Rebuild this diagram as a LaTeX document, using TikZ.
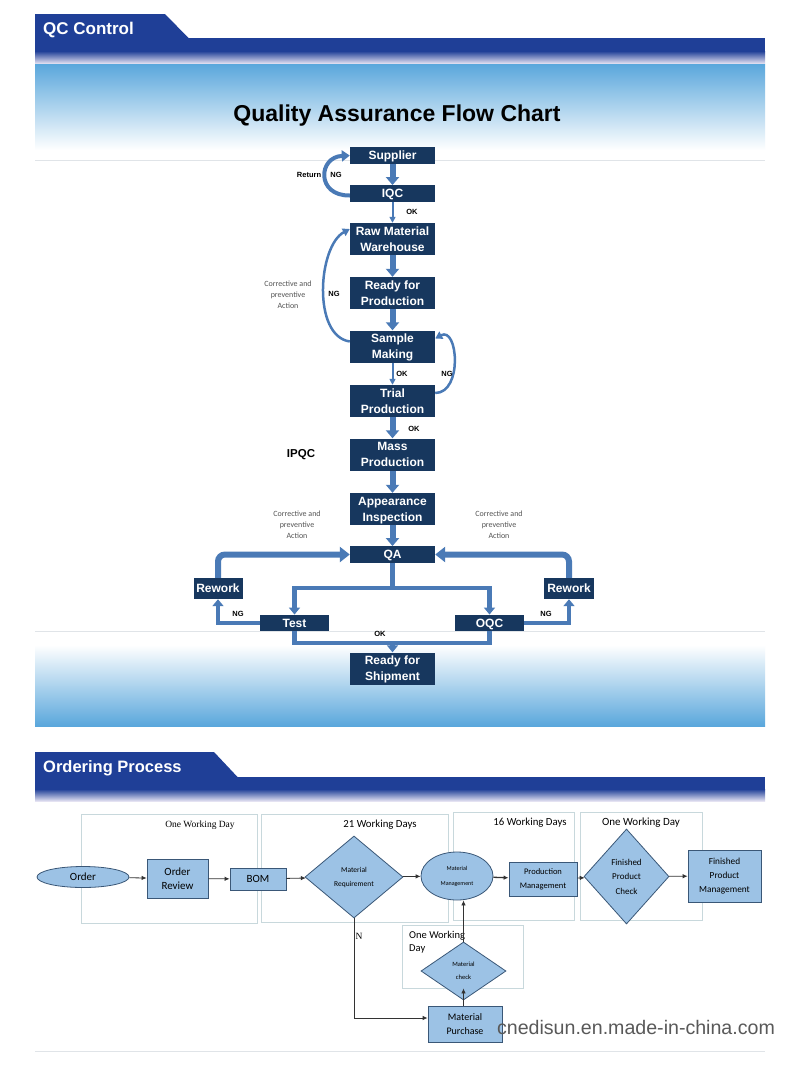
\documentclass[tikz,border=0pt]{standalone}
\usepackage{fontspec}
\setmainfont{Liberation Sans}
\newfontfamily\fA{Liberation Sans}
\newfontfamily\fC{Carlito}
\newfontfamily\fT{Liberation Serif}
\usetikzlibrary{arrows.meta,shapes.geometric,calc}
\definecolor{hdr}{HTML}{1F3F97}
\definecolor{lav}{HTML}{E4E2F2}
\definecolor{sky}{HTML}{5AA7DC}
\definecolor{navy}{HTML}{17375E}
\definecolor{arr}{HTML}{4A7AB6}
\definecolor{sepc}{HTML}{E0E4E8}
\definecolor{lblue}{HTML}{9CC2E5}
\definecolor{nodeline}{HTML}{3A5777}
\definecolor{framec}{HTML}{C8D8DC}
\definecolor{cpac}{HTML}{555555}
\begin{document}
\begin{tikzpicture}[x=1pt,y=-1pt,
  qbox/.style={fill=navy, text=white, font=\fA\bfseries\fontsize{12}{16}\selectfont, minimum width=85pt, inner sep=0pt, align=center, text depth=0pt},
  qtall/.style={qbox, minimum height=32pt},
  qshort/.style={qbox, minimum height=16.5pt},
  lblb/.style={font=\fA\bfseries\fontsize{7.5}{9}\selectfont, inner sep=0pt},
  cpa/.style={text=cpac, font=\fC\fontsize{8}{11}\selectfont, align=center, inner sep=0pt},
  barrow/.style={draw=arr, line width=6pt, -{Triangle[width=13pt,length=8pt]}},
  tarrow/.style={draw=arr, line width=2pt, -{Triangle[width=6pt,length=6pt]}},
  curv/.style={draw=arr, line width=4pt, -{Triangle[width=11pt,length=8pt]}},
  curvt/.style={draw=arr, line width=2.5pt, -{Triangle[width=8pt,length=7pt]}},
  pipe/.style={draw=arr, line width=4.5pt},
  pipetip/.style={pipe, -{Triangle[width=11pt,length=7pt]}},
  bigpipe/.style={draw=arr, line width=6pt, rounded corners=7pt, -{Triangle[width=15pt,length=10pt]}},
  onode/.style={draw=nodeline, fill=lblue, line width=0.8pt, font=\fC\fontsize{11}{14}\selectfont, align=center, inner sep=0pt},
  oarr/.style={draw=black!80, line width=0.8pt, -{Latex[length=5pt,width=4.5pt]}},
  frame/.style={draw=framec, line width=0.8pt},
  flab/.style={font=\fC\fontsize{10.8}{13}\selectfont, inner sep=0pt}
]
\useasboundingbox (0,0) rectangle (800,1069);
\fill[white] (0,0) rectangle (800,1069);

% ---------- QC header ----------
\fill[hdr] (35,14) -- (165,14) -- (189,38.5) -- (35,38.5) -- cycle;
\fill[hdr] (35,38) rectangle (765,51);
\shade[top color=hdr, bottom color=lav] (35,51) rectangle (765,63.5);
\shade[top color=sky, bottom color=white] (35,64) rectangle (765,150);
\node[anchor=west, text=white, font=\fA\bfseries\fontsize{17}{20}\selectfont, inner sep=0pt] (qctab) at (43,30) {QC Control};
\node[font=\fA\bfseries\fontsize{23}{26}\selectfont] (title) at (397,116) {Quality Assurance Flow Chart};
\draw[sepc, line width=1pt] (35,160) -- (765,160);

% bottom gradient of QC section
\shade[top color=white, bottom color=sky] (35,645) rectangle (765,726);
\draw[sepc, line width=1pt] (35,631) -- (765,631);

% ---------- QC flow nodes ----------
\node[qshort] (sup) at (392.5,155.5) {Supplier};
\node[qshort] (iqc) at (392.5,193.5) {IQC};
\node[qtall] (raw) at (392.5,239) {Raw Material\\Warehouse};
\node[qtall] (rdy) at (392.5,293) {Ready for\\Production};
\node[qtall] (smp) at (392.5,346.5) {Sample\\Making};
\node[qtall] (trl) at (392.5,401) {Trial\\Production};
\node[qtall] (mas) at (392.5,454.5) {Mass\\Production};
\node[qtall] (app) at (392.5,509) {Appearance\\Inspection};
\node[qshort] (qa) at (392.5,554.5) {QA};
\node[qbox, minimum width=49pt, minimum height=21pt] (rwl) at (218,588.5) {Rework};
\node[qbox, minimum width=50pt, minimum height=21pt] (rwr) at (569,588.5) {Rework};
\node[qbox, minimum width=69pt, minimum height=16.5pt] (tst) at (294.5,623) {Test};
\node[qbox, minimum width=69pt, minimum height=16.5pt] (oqc) at (489.5,623) {OQC};
\node[qtall] (shp) at (392.5,668.5) {Ready for\\Shipment};

% ---------- QC connectors ----------
\draw[barrow] (sup.south) -- (iqc.north);
\draw[tarrow] (iqc.south) -- (raw.north);
\draw[barrow] (raw.south) -- (rdy.north);
\draw[barrow] (rdy.south) -- (smp.north);
\draw[tarrow] (smp.south) -- (trl.north);
\draw[barrow] (trl.south) -- (mas.north);
\draw[barrow] (mas.south) -- (app.north);
\draw[barrow] (app.south) -- (qa.north);
\draw[curv] ([yshift=-2pt]iqc.west) .. controls (316,196) and (318,157) .. (sup.west);
\draw[curvt] ([yshift=5pt]smp.west) .. controls (312,336) and (318,246) .. ([yshift=10pt]raw.west);
\draw[curvt] ([yshift=8pt]trl.east) .. controls (463,393) and (458,326) .. ([yshift=8pt]smp.east);

\coordinate (qs) at (392.5,588);
\draw[pipe] (qa.south) -- (qs);
\draw[pipetip] (qs) -| (tst.north);
\draw[pipetip] (qs) -| (oqc.north);
\draw[pipetip] (tst.west) -| (rwl.south);
\draw[pipetip] (oqc.east) -| (rwr.south);
\draw[bigpipe] (rwl.north) |- (qa.west);
\draw[bigpipe] (rwr.north) |- (qa.east);
\coordinate (okl) at (294.5,643);
\coordinate (okr) at (489.5,643);
\coordinate (okm) at (392.5,643);
\draw[pipe] (tst.south) -- (okl) -- (okr) -- (oqc.south);
\draw[pipetip] (okm) -- (shp.north);

% ---------- QC labels ----------
\node[lblb] (lret) at (309,175) {Return};
\node[lblb] (lng1) at (336,175) {NG};
\node[lblb] (lok1) at (412,212) {OK};
\node[lblb] (lng2) at (334,294) {NG};
\node[cpa] (cpa1) at (288,295) {Corrective and\\preventive\\Action};
\node[lblb] (lok2) at (402,374) {OK};
\node[lblb] (lng3) at (447,374) {NG};
\node[lblb] (lok3) at (414,429) {OK};
\node[font=\fA\bfseries\fontsize{11.5}{13}\selectfont, inner sep=0pt] (ipqc) at (301,455) {IPQC};
\node[cpa] (cpa2) at (297,525) {Corrective and\\preventive\\Action};
\node[cpa] (cpa3) at (499,525) {Corrective and\\preventive\\Action};
\node[lblb] (lng4) at (238,614) {NG};
\node[lblb] (lng5) at (546,614) {NG};
\node[lblb] (lok4) at (380,634) {OK};

% ---------- Ordering header ----------
\fill[hdr] (35,752) -- (214,752) -- (238,777.5) -- (35,777.5) -- cycle;
\fill[hdr] (35,777) rectangle (765,789);
\shade[top color=hdr, bottom color=lav] (35,789) rectangle (765,801);
\node[anchor=west, text=white, font=\fA\bfseries\fontsize{16.5}{19}\selectfont, inner sep=0pt] (ordtab) at (43,768.5) {Ordering Process};
\draw[sepc, line width=1pt] (35,1051) -- (765,1051);

% ---------- Ordering frames ----------
\draw[frame] (81,814) rectangle (257,923);
\draw[frame] (261,814) rectangle (448,922);
\draw[frame] (453,812) rectangle (574,920);
\draw[frame] (580,812) rectangle (702,920);
\draw[frame] (402,925) rectangle (523,988);
\node[font=\fT\fontsize{9.5}{11}\selectfont, inner sep=0pt] (f1l) at (200,825) {One Working Day};
\node[flab] (f2l) at (380,825) {21 Working Days};
\node[flab] (f3l) at (530,823) {16 Working Days};
\node[flab, font=\fC\fontsize{11}{13}\selectfont] (f4l) at (641,823) {One Working Day};
\node[anchor=north west, font=\fC\fontsize{10.5}{13}\selectfont, align=left, inner sep=0pt] (f5l) at (409,931) {One Working\\Day};

% ---------- Ordering nodes ----------
\node[onode, ellipse, minimum width=92pt, minimum height=21pt] (ord) at (83,877) {Order};
\node[onode, minimum width=61pt, minimum height=39pt] (rev) at (177.5,878.5) {Order\\Review};
\node[onode, minimum width=56pt, minimum height=22pt] (bom) at (258,879) {BOM};
\node[onode, diamond, minimum width=98pt, minimum height=82pt, font=\fC\fontsize{7.5}{14}\selectfont] (mrq) at (354,877) {Material\\Requirement};
\node[onode, ellipse, minimum width=72pt, minimum height=48pt, font=\fC\fontsize{6}{15}\selectfont] (mmg) at (457,876) {Material\\Management};
\node[onode, minimum width=68pt, minimum height=34pt, font=\fC\fontsize{8.5}{14}\selectfont] (pmg) at (543,879) {Production\\Management};
\node[onode, diamond, minimum width=85pt, minimum height=95pt, font=\fC\fontsize{9}{14.5}\selectfont] (fpc) at (626.5,876.5) {Finished\\Product\\Check};
\node[onode, minimum width=73pt, minimum height=52pt, font=\fC\fontsize{9.3}{14}\selectfont] (fpm) at (724.5,876) {Finished\\Product\\Management};
\node[onode, diamond, minimum width=85pt, minimum height=58pt, font=\fC\fontsize{6.5}{13}\selectfont] (mck) at (463.5,971) {Material\\check};
\node[onode, minimum width=74pt, minimum height=36pt, font=\fC\fontsize{10}{14}\selectfont] (mpu) at (465,1024) {Material\\Purchase};

% ---------- Ordering connectors ----------
\draw[oarr] (ord) -- (rev);
\draw[oarr] (rev) -- (bom);
\draw[oarr] (bom) -- (mrq);
\draw[oarr] (mrq) -- (mmg);
\draw[oarr, line width=1.3pt] (mmg) -- (pmg);
\draw[oarr] (pmg) -- (fpc);
\draw[oarr] (fpc) -- (fpm);
\draw[oarr] (mrq.south) |- ([yshift=6pt]mpu.west);
\draw[oarr] (mpu.north -| mck.south) -- ([yshift=12pt]mck.south);
\draw[oarr] (mck.north) -- (mck.north |- mmg.south);
\node[font=\fT\fontsize{9.5}{11}\selectfont, inner sep=0pt] (nlab) at (359,936) {N};

% watermark
\node[text=black!65, font=\fA\fontsize{19.6}{22}\selectfont, inner sep=0pt] (wm) at (636,1027) {cnedisun.en.made-in-china.com};
\end{tikzpicture}
\end{document}
